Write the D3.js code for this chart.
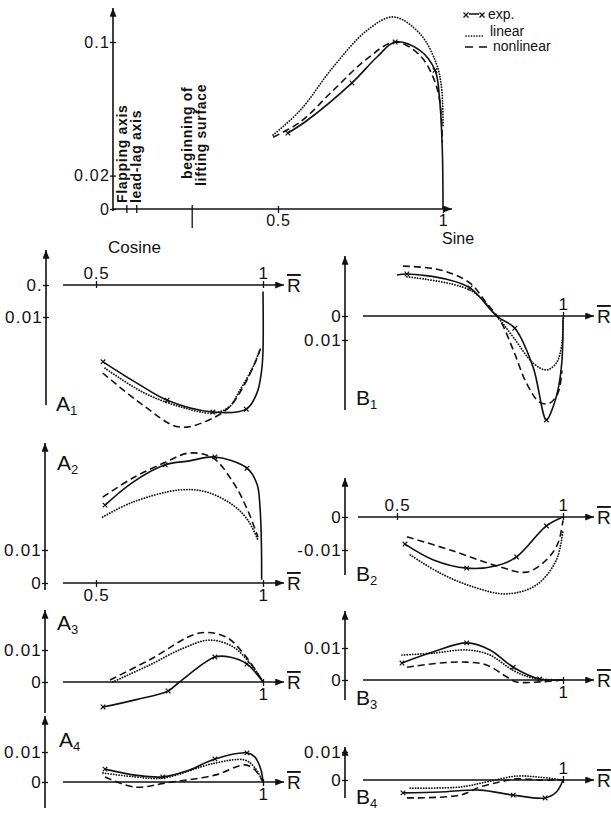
<html>

<head>
  <title>rotor blade harmonics</title>
  <style>
    body { margin: 0; background: #fff; }
    text { font-family: "Liberation Sans", Arial, sans-serif; fill: #111; }
  </style>
</head>

<body>
  <script src="https://d3js.org/d3.v7.min.js"></script>
  <script>

    // mean part (top)
    var topExp = [[0.53, 0.0455, 1], [0.588, 0.053], [0.724, 0.0755, 1], [0.80, 0.091], [0.855, 0.100, 1], [0.93, 0.095], [0.976, 0.083, 1], [0.99, 0.065], [0.998, 0.035], [1, 0]];
    var topLin = [[0.485, 0.0443], [0.567, 0.059], [0.667, 0.085], [0.77, 0.107], [0.85, 0.115], [0.93, 0.105], [0.98, 0.087], [0.996, 0.072], [1, 0.05]];
    var topNon = [[0.485, 0.043], [0.567, 0.052], [0.667, 0.071], [0.77, 0.090], [0.855, 0.100], [0.93, 0.092], [0.97, 0.079], [0.99, 0.065], [0.998, 0.04]];
    var topMarks = [0.042, 0.072, 0.24];

    // cosine parts
    var a1Exp = [[0.521, -0.024, 1], [0.62, -0.0305], [0.713, -0.036, 1], [0.85, -0.0397, 1], [0.95, -0.0388, 1], [0.982, -0.0337], [0.996, -0.0266], [1, -0.0203], [1, -0.002]];
    var a1Lin = [[0.527, -0.026], [0.64, -0.0335], [0.75, -0.038], [0.85, -0.040], [0.90, -0.038], [0.93, -0.033], [0.97, -0.0256], [0.99, -0.0203]];
    var a1Non = [[0.52, -0.0275], [0.64, -0.0375], [0.75, -0.0444], [0.85, -0.0416], [0.90, -0.038], [0.94, -0.032], [0.98, -0.0234], [0.995, -0.019]];

    var a2Exp = [[0.527, 0.0236, 1], [0.61, 0.0305], [0.707, 0.0358, 1], [0.78, 0.037], [0.856, 0.0382, 1], [0.952, 0.0348, 1], [0.982, 0.030], [0.991, 0.023], [0.995, 0.013], [0.996, 0.001]];
    var a2Lin = [[0.52, 0.020], [0.61, 0.0245], [0.75, 0.0282], [0.83, 0.0276], [0.91, 0.0236], [0.955, 0.019], [0.985, 0.013]];
    var a2Non = [[0.52, 0.026], [0.61, 0.0318], [0.71, 0.0367], [0.78, 0.0394], [0.85, 0.0379], [0.91, 0.0306], [0.95, 0.023], [0.985, 0.0139]];

    var a3Exp = [[0.521, -0.0078, 1], [0.62, -0.0055], [0.716, -0.0028, 1], [0.75, 0], [0.856, 0.0078, 1], [0.90, 0.0078], [0.952, 0.0056, 1], [1, 0]];
    var a3Lin = [[0.55, 0], [0.66, 0.0053], [0.76, 0.0105], [0.84, 0.0131], [0.91, 0.011], [0.97, 0.0047], [1, 0]];
    var a3Non = [[0.542, 0.0006], [0.66, 0.0069], [0.81, 0.0153], [0.89, 0.014], [0.95, 0.0078], [1, 0]];

    var a4Exp = [[0.527, 0.0043, 1], [0.617, 0.0023], [0.70, 0.0017, 1], [0.78, 0.004], [0.856, 0.0077, 1], [0.952, 0.0097, 1], [0.976, 0.0083], [0.994, 0.004], [1, 0]];
    var a4Lin = [[0.521, 0.003], [0.617, 0.0017], [0.70, 0.0013], [0.856, 0.0063], [0.946, 0.0073], [0.976, 0.0047], [1, 0]];
    var a4Non = [[0.527, 0.0017], [0.617, -0.0017], [0.71, -0.0003], [0.856, 0.0023], [0.946, 0.0057], [0.976, 0.004], [1, 0]];

    // sine parts
    var b1Exp = [[0.50, 0.0171], [0.53, 0.0175, 1], [0.65, 0.0153], [0.72, 0.0117, 1], [0.80, 0], [0.855, -0.0051, 1], [0.91, -0.0213], [0.95, -0.0433, 1], [0.97, -0.0379], [0.985, -0.0307], [0.997, -0.0184], [1, -0.0013]];
    var b1Lin = [[0.53, 0.0163], [0.72, 0.0108], [0.80, 0], [0.85, -0.0088], [0.91, -0.0196], [0.95, -0.0225], [0.98, -0.0196], [0.997, -0.0112], [1, 0]];
    var b1Non = [[0.518, 0.0208], [0.63, 0.0192], [0.72, 0.0137], [0.77, 0.0053], [0.81, -0.0017], [0.85, -0.0141], [0.89, -0.028], [0.93, -0.036], [0.96, -0.0363], [0.985, -0.032], [0.997, -0.0227]];

    var b2Exp = [[0.524, -0.0082, 1], [0.61, -0.013], [0.71, -0.0155, 1], [0.80, -0.0148], [0.86, -0.0121, 1], [0.95, -0.0027, 1], [1, 0]];
    var b2Lin = [[0.54, -0.0115], [0.63, -0.017], [0.73, -0.0212], [0.83, -0.0233], [0.92, -0.0206], [0.98, -0.013], [1, -0.004]];
    var b2Non = [[0.53, -0.006], [0.66, -0.010], [0.80, -0.0148], [0.89, -0.0167], [0.95, -0.013], [0.985, -0.0079], [1, -0.001]];

    var b3Exp = [[0.515, 0.0053, 1], [0.61, 0.0088], [0.71, 0.0116, 1], [0.78, 0.0094], [0.85, 0.004, 1], [0.93, 0.0003, 1], [1, 0]];
    var b3Lin = [[0.515, 0.0078], [0.61, 0.0084], [0.71, 0.0094], [0.78, 0.0078], [0.85, 0.003], [0.91, 0.0006], [1, 0]];
    var b3Non = [[0.53, 0.004], [0.63, 0.0053], [0.71, 0.0056], [0.77, 0.0047], [0.83, 0.001], [0.86, -0.0006], [0.93, -0.0006], [1, 0]];

    var b4Exp = [[0.518, -0.0046, 1], [0.63, -0.0043], [0.75, -0.0036], [0.85, -0.0054, 1], [0.946, -0.0064, 1], [0.98, -0.0043], [1, 0]];
    var b4Lin = [[0.54, -0.0029], [0.69, -0.0025], [0.77, -0.0007], [0.86, 0.0014], [0.93, 0.001], [1, 0]];
    var b4Non = [[0.53, -0.0064], [0.69, -0.0054], [0.75, -0.0025], [0.81, -0.0007], [0.86, 0.0004], [0.93, 0], [1, 0]];

    var W = 611, H = 814;
    var svg = d3.select("body").append("svg")
      .attr("width", W)
      .attr("height", H);

    svg.append("defs").append("marker")
      .attr("id", "arrow")
      .attr("viewBox", "0 0 10 8")
      .attr("refX", 10).attr("refY", 4)
      .attr("markerWidth", 10).attr("markerHeight", 7)
      .attr("markerUnits", "userSpaceOnUse")
      .attr("orient", "auto")
      .append("path")
      .attr("d", "M0,0 L10,4 L0,8 z")
      .attr("fill", "#111");

    var curve = d3.curveCatmullRom.alpha(0.5);
    var styles = {
      exp: { dash: null, cap: "butt" },
      lin: { dash: "0.1,2.6", cap: "round" },
      non: { dash: "7,4", cap: "butt" }
    };

    function drawPanel(p) {
      var g = svg.append("g");
      var x = p.x, y = p.y;

      // y axis
      var ya = g.append("g")
        .attr("transform", "translate(" + p.ax + ",0)")
        .call(d3.axisLeft(y).tickValues(p.yTicks)
          .tickFormat(function (d, i) { return p.yLabels[i]; })
          .tickSizeInner(3).tickSizeOuter(0).tickPadding(0));
      ya.select(".domain").remove();
      ya.selectAll(".tick line").attr("x1", 3).attr("stroke", "#111").attr("stroke-width", 1.3);
      ya.selectAll("text").attr("font-size", p.fs || 17).attr("letter-spacing", 1.2).attr("fill", "#111");
      g.append("line")
        .attr("x1", p.ax).attr("x2", p.ax)
        .attr("y1", p.yBot).attr("y2", p.yTop)
        .attr("stroke", "#111").attr("stroke-width", 1.6)
        .attr("marker-end", "url(#arrow)");

      // x axis
      var xAxis = p.xSide == "top" ? d3.axisTop(x) : d3.axisBottom(x);
      var xa = g.append("g")
        .attr("transform", "translate(0," + y(0) + ")")
        .call(xAxis.tickValues(p.xTicks)
          .tickFormat(function (d, i) { return p.xLabels[i]; })
          .tickSizeInner(4).tickSizeOuter(0).tickPadding(2));
      xa.select(".domain").remove();
      xa.selectAll(".tick line").attr("y1", p.xSide == "top" ? 3 : -3).attr("stroke", "#111").attr("stroke-width", 1.3);
      xa.selectAll("text").attr("font-size", p.fs || 17).attr("letter-spacing", 0.8).attr("fill", "#111");
      g.append("line")
        .attr("x1", p.xFrom).attr("x2", p.xTo)
        .attr("y1", y(0)).attr("y2", y(0))
        .attr("stroke", "#111").attr("stroke-width", 1.6)
        .attr("marker-end", "url(#arrow)");
      if (p.rbar) {
        g.append("text")
          .attr("x", p.xTo + 3).attr("y", y(0) + 7)
          .attr("font-size", 19)
          .style("text-decoration", "overline")
          .text("R");
      }

      // curves
      var line = d3.line()
        .x(function (d) { return x(d[0]); })
        .y(function (d) { return y(d[1]); })
        .curve(curve);
      [["lin", p.lin], ["non", p.non], ["exp", p.exp]].forEach(function (s) {
        var st = styles[s[0]];
        g.append("path")
          .datum(s[1])
          .attr("d", line)
          .attr("fill", "none")
          .attr("stroke", "#111")
          .attr("stroke-width", s[0] == "lin" ? 1.8 : 1.6)
          .attr("stroke-linecap", st.cap)
          .attr("stroke-dasharray", st.dash);
      });
      g.selectAll(".mk")
        .data(p.exp.filter(function (d) { return d[2]; }))
        .enter()
        .append("path")
        .attr("transform", function (d) { return "translate(" + x(d[0]) + "," + y(d[1]) + ")"; })
        .attr("d", "M-2.3,-2.3L2.3,2.3M-2.3,2.3L2.3,-2.3")
        .attr("stroke", "#111")
        .attr("stroke-width", 1.2);

      if (p.name) {
        var t = g.append("text")
          .attr("x", p.lx).attr("y", p.ly)
          .attr("font-size", 21)
          .text(p.name);
        t.append("tspan").attr("dy", 4).attr("font-size", 13).text(p.sub);
      }
      return g;
    }

    // scales: the cosine column and sine column share R spacing
    function xA() { return d3.scaleLinear().domain([0.5, 1]).range([96, 263]); }
    function xB() { return d3.scaleLinear().domain([0.5, 1]).range([397, 563]); }

    // top panel
    var xTop = d3.scaleLinear().domain([0, 1]).range([113, 443]);
    var topG = drawPanel({
      x: xTop,
      y: d3.scaleLinear().domain([0, 0.1]).range([209, 42]),
      ax: 113, yTop: 8, yBot: 211, xFrom: 113, xTo: 452, xSide: "bottom",
      xTicks: [0.5, 1], xLabels: ["0.5", "1"],
      yTicks: [0, 0.02, 0.1], yLabels: ["0", "0.02", "0.1"], fs: 16,
      exp: topExp, lin: topLin, non: topNon
    });
    topG.selectAll(".pos")
      .data(topMarks)
      .enter()
      .append("line")
      .attr("x1", function (d) { return xTop(d); })
      .attr("x2", function (d) { return xTop(d); })
      .attr("y1", 205)
      .attr("y2", function (d, i) { return i == 2 ? 228 : 213; })
      .attr("stroke", "#111").attr("stroke-width", 1.3);

    function vlabel(x, y, s) {
      svg.append("text")
        .attr("transform", "translate(" + x + "," + y + ") rotate(-90)")
        .attr("font-size", 14)
        .attr("letter-spacing", 0.7)
        .attr("font-weight", "bold")
        .text(s);
    }
    vlabel(127, 203, "Flapping  axis");
    vlabel(141, 203, "lead-lag  axis");
    vlabel(192, 179, "beginning  of");
    vlabel(206, 186, "lifting  surface");

    // legend
    var lg = svg.append("g");
    lg.append("line").attr("x1", 469).attr("x2", 479).attr("y1", 14).attr("y2", 14).attr("stroke", "#111").attr("stroke-width", 1.5);
    lg.selectAll(".lx").data([466, 482]).enter().append("path")
      .attr("transform", function (d) { return "translate(" + d + ",15)"; })
      .attr("d", "M-2.5,-2.5L2.5,2.5M-2.5,2.5L2.5,-2.5")
      .attr("stroke", "#111").attr("stroke-width", 1.3);
    lg.append("line").attr("x1", 466).attr("x2", 483).attr("y1", 36).attr("y2", 36)
      .attr("stroke", "#111").attr("stroke-width", 1.7).attr("stroke-dasharray", "0.1,2.6").attr("stroke-linecap", "round");
    lg.append("line").attr("x1", 465).attr("x2", 490).attr("y1", 47).attr("y2", 47)
      .attr("stroke", "#111").attr("stroke-width", 1.5).attr("stroke-dasharray", "8,6");
    lg.append("text").attr("x", 488).attr("y", 19).attr("font-size", 14).text("exp.");
    lg.append("text").attr("x", 490).attr("y", 36).attr("font-size", 14).text("linear");
    lg.append("text").attr("x", 493).attr("y", 51).attr("font-size", 14).text("nonlinear");

    svg.append("text").attr("x", 108).attr("y", 253).attr("font-size", 17).text("Cosine");
    svg.append("text").attr("x", 442).attr("y", 244).attr("font-size", 16).text("Sine");

    drawPanel({
      x: xA(), y: d3.scaleLinear().domain([0, -0.01]).range([285, 317]),
      ax: 46, yTop: 250, yBot: 405, xFrom: 63, xTo: 284, xSide: "top",
      xTicks: [0.5, 1], xLabels: ["0.5", "1"],
      yTicks: [0, -0.01], yLabels: ["0.", "0.01"],
      exp: a1Exp, lin: a1Lin, non: a1Non, rbar: true,
      name: "A", sub: "1", lx: 56, ly: 411
    });
    drawPanel({
      x: xB(), y: d3.scaleLinear().domain([0, -0.01]).range([316, 340]),
      ax: 345, yTop: 256, yBot: 410, xFrom: 363, xTo: 594, xSide: "top",
      xTicks: [1], xLabels: ["1"],
      yTicks: [0, -0.01], yLabels: ["0", "0.01"],
      exp: b1Exp, lin: b1Lin, non: b1Non, rbar: true,
      name: "B", sub: "1", lx: 356, ly: 405
    });
    drawPanel({
      x: xA(), y: d3.scaleLinear().domain([0, 0.01]).range([583, 550]),
      ax: 45, yTop: 443, yBot: 590, xFrom: 63, xTo: 284, xSide: "bottom",
      xTicks: [0.5, 1], xLabels: ["0.5", "1"],
      yTicks: [0, 0.01], yLabels: ["0", "0.01"],
      exp: a2Exp, lin: a2Lin, non: a2Non, rbar: true,
      name: "A", sub: "2", lx: 57, ly: 470
    });
    drawPanel({
      x: xB(), y: d3.scaleLinear().domain([0, -0.01]).range([517, 550]),
      ax: 345, yTop: 478, yBot: 575, xFrom: 358, xTo: 594, xSide: "top",
      xTicks: [0.5, 1], xLabels: ["0.5", "1"],
      yTicks: [0, -0.01], yLabels: ["0", "-0.01"],
      exp: b2Exp, lin: b2Lin, non: b2Non, rbar: true,
      name: "B", sub: "2", lx: 356, ly: 581
    });
    drawPanel({
      x: xA(), y: d3.scaleLinear().domain([0, 0.01]).range([682, 650]),
      ax: 45, yTop: 610, yBot: 713, xFrom: 63, xTo: 284, xSide: "bottom",
      xTicks: [1], xLabels: ["1"],
      yTicks: [0, 0.01], yLabels: ["0", "0.01"],
      exp: a3Exp, lin: a3Lin, non: a3Non, rbar: true,
      name: "A", sub: "3", lx: 57, ly: 630
    });
    drawPanel({
      x: xB(), y: d3.scaleLinear().domain([0, 0.01]).range([680, 648]),
      ax: 345, yTop: 611, yBot: 700, xFrom: 363, xTo: 594, xSide: "bottom",
      xTicks: [1], xLabels: ["1"],
      yTicks: [0, 0.01], yLabels: ["0", "0.01"],
      exp: b3Exp, lin: b3Lin, non: b3Non, rbar: true,
      name: "B", sub: "3", lx: 356, ly: 705
    });
    drawPanel({
      x: xA(), y: d3.scaleLinear().domain([0, 0.01]).range([782, 752]),
      ax: 45, yTop: 716, yBot: 808, xFrom: 63, xTo: 284, xSide: "bottom",
      xTicks: [1], xLabels: ["1"],
      yTicks: [0, 0.01], yLabels: ["0", "0.01"],
      exp: a4Exp, lin: a4Lin, non: a4Non, rbar: true,
      name: "A", sub: "4", lx: 59, ly: 747
    });
    drawPanel({
      x: xB(), y: d3.scaleLinear().domain([0, 0.01]).range([780, 752]),
      ax: 345, yTop: 747, yBot: 798, xFrom: 363, xTo: 594, xSide: "top",
      xTicks: [1], xLabels: ["1"],
      yTicks: [0, 0.01], yLabels: ["0", "0.01"],
      exp: b4Exp, lin: b4Lin, non: b4Non, rbar: true,
      name: "B", sub: "4", lx: 356, ly: 804
    });
  </script>
</body>

</html>
